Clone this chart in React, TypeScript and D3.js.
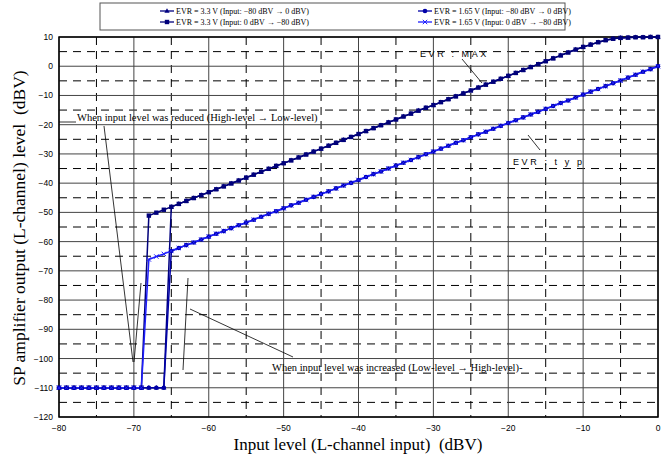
import React from "react";
import * as d3 from "d3";

const inputLevels = [
  -80, -79, -78, -77, -76, -75, -74, -73, -72, -71, -70, -69, -68, -67, -66, -65, -64, -63, -62, -61,
  -60, -59, -58, -57, -56, -55, -54, -53, -52, -51, -50, -49, -48, -47, -46, -45, -44, -43, -42, -41,
  -40, -39, -38, -37, -36, -35, -34, -33, -32, -31, -30, -29, -28, -27, -26, -25, -24, -23, -22, -21,
  -20, -19, -18, -17, -16, -15, -14, -13, -12, -11, -10, -9, -8, -7, -6, -5, -4, -3, -2, -1, 0,
];

// EVR = 3.3 V, input -80 -> 0 dBV
const evr33Up = [
  -110, -110, -110, -110, -110, -110, -110, -110, -110, -110, -110, -110, -110, -110, -110,
  -48.1, -47.1, -46.1, -45.1, -44.1, -43.1, -42.1, -41.1, -40.1, -39.1, -38.1, -37.1, -36.1, -35.1, -34.1,
  -33.2, -32.2, -31.2, -30.2, -29.2, -28.2, -27.2, -26.2, -25.2, -24.2, -23.2, -22.2, -21.2, -20.2, -19.2,
  -18.2, -17.2, -16.2, -15.2, -14.2, -13.3, -12.3, -11.3, -10.3, -9.3, -8.3, -7.3, -6.3, -5.3, -4.3,
  -3.3, -2.3, -1.3, -0.3, 0.7, 1.7, 2.7, 3.7, 4.7, 5.7, 6.6, 7.4, 8.2, 8.9, 9.4, 9.7, 9.8, 9.9, 9.9, 10, 10,
];

// EVR = 3.3 V, input 0 -> -80 dBV
const evr33Down = [
  -110, -110, -110, -110, -110, -110, -110, -110, -110, -110, -110, -110,
  -51.1, -50.1, -49.1, -48.1, -47.1, -46.1, -45.1, -44.1, -43.1, -42.1, -41.1, -40.1, -39.1, -38.1, -37.1,
  -36.1, -35.1, -34.1, -33.2, -32.2, -31.2, -30.2, -29.2, -28.2, -27.2, -26.2, -25.2, -24.2, -23.2, -22.2,
  -21.2, -20.2, -19.2, -18.2, -17.2, -16.2, -15.2, -14.2, -13.3, -12.3, -11.3, -10.3, -9.3, -8.3, -7.3,
  -6.3, -5.3, -4.3, -3.3, -2.3, -1.3, -0.3, 0.7, 1.7, 2.7, 3.7, 4.7, 5.7, 6.6, 7.4, 8.2, 8.9, 9.4, 9.7,
  9.8, 9.9, 9.9, 10, 10,
];

// EVR = 1.65 V, input -80 -> 0 dBV
const evr165Up = [
  -110, -110, -110, -110, -110, -110, -110, -110, -110, -110, -110, -110, -110, -110, -110,
  -63.2, -62.2, -61.2, -60.3, -59.3, -58.3, -57.3, -56.4, -55.4, -54.4, -53.5, -52.5, -51.5, -50.5, -49.6,
  -48.6, -47.6, -46.7, -45.7, -44.7, -43.7, -42.8, -41.8, -40.8, -39.9, -38.9, -37.9, -36.9, -36.0, -35.0,
  -34.0, -33.0, -32.1, -31.1, -30.1, -29.2, -28.2, -27.2, -26.2, -25.3, -24.3, -23.3, -22.4, -21.4, -20.4,
  -19.4, -18.5, -17.5, -16.5, -15.6, -14.6, -13.6, -12.6, -11.7, -10.7, -9.7, -8.7, -7.8, -6.8, -5.8, -4.9,
  -3.9, -2.9, -1.9, -1.0, 0,
];

// EVR = 1.65 V, input 0 -> -80 dBV
const evr165Down = [
  -110, -110, -110, -110, -110, -110, -110, -110, -110, -110, -110, -110,
  -66.1, -65.1, -64.2, -63.2, -62.2, -61.2, -60.3, -59.3, -58.3, -57.3, -56.4, -55.4, -54.4, -53.5, -52.5,
  -51.5, -50.5, -49.6, -48.6, -47.6, -46.7, -45.7, -44.7, -43.7, -42.8, -41.8, -40.8, -39.9, -38.9, -37.9,
  -36.9, -36.0, -35.0, -34.0, -33.0, -32.1, -31.1, -30.1, -29.2, -28.2, -27.2, -26.2, -25.3, -24.3, -23.3,
  -22.4, -21.4, -20.4, -19.4, -18.5, -17.5, -16.5, -15.6, -14.6, -13.6, -12.6, -11.7, -10.7, -9.7, -8.7,
  -7.8, -6.8, -5.8, -4.9, -3.9, -2.9, -1.9, -1.0, 0,
];

const seriesLabels = [
  "EVR = 3.3 V (Input: \u221280 dBV \u2192 0 dBV)",
  "EVR = 3.3 V (Input: 0 dBV \u2192 \u221280 dBV)",
  "EVR = 1.65 V (Input: \u221280 dBV \u2192 0 dBV)",
  "EVR = 1.65 V (Input: 0 dBV \u2192 \u221280 dBV)",
];

const xTicks = [-80, -70, -60, -50, -40, -30, -20, -10, 0];
const yTicks = [10, 0, -10, -20, -30, -40, -50, -60, -70, -80, -90, -100, -110, -120];
const xMinor = [-75, -65, -55, -45, -35, -25, -15, -5];
const yMinor = [5, -5, -15, -25, -35, -45, -55, -65, -75, -85, -95, -105, -115];

const W = 669;
const H = 457;
const L = 59, R = 658, T = 37, B = 417;

const fmt = (v: number) => (v < 0 ? "\u2212" + Math.abs(v) : String(v));

type Shape = "tri" | "sq" | "dot" | "x";
const series: { values: number[]; color: string; shape: Shape }[] = [
  { values: evr33Up, color: "#000080", shape: "tri" },
  { values: evr33Down, color: "#00007a", shape: "sq" },
  { values: evr165Up, color: "#0000a8", shape: "dot" },
  { values: evr165Down, color: "#1e1eff", shape: "x" },
];

function Marker({ x, y, shape, color }: { x: number; y: number; shape: Shape; color: string }) {
  if (shape === "tri")
    return <path d={`M${x},${y - 2.8}L${x + 2.6},${y + 1.8}L${x - 2.6},${y + 1.8}Z`} fill={color} />;
  if (shape === "sq") return <rect x={x - 2.2} y={y - 2.2} width={4.4} height={4.4} fill={color} />;
  if (shape === "dot") return <circle cx={x} cy={y} r={2.3} fill={color} />;
  return (
    <path
      d={`M${x - 2.2},${y - 2.2}L${x + 2.2},${y + 2.2}M${x - 2.2},${y + 2.2}L${x + 2.2},${y - 2.2}`}
      stroke={color}
      strokeWidth={1}
    />
  );
}

export default function App() {
  const x = d3.scaleLinear().domain([-80, 0]).range([L, R]);
  const y = d3.scaleLinear().domain([-120, 10]).range([B, T]);
  const line = d3
    .line<number>()
    .x((_, i) => x(inputLevels[i]))
    .y((d) => y(d));

  const sans = "'Liberation Sans', Arial, sans-serif";
  const serif = "'Liberation Serif', 'Times New Roman', serif";

  const legendItems = [
    { lx: 160, ly: 11, ...series[0], label: seriesLabels[0] },
    { lx: 160, ly: 22, ...series[1], label: seriesLabels[1] },
    { lx: 418, ly: 11, ...series[2], label: seriesLabels[2] },
    { lx: 418, ly: 22, ...series[3], label: seriesLabels[3] },
  ];

  return (
    <svg
      width={W}
      height={H}
      style={{ position: "absolute", left: 0, top: 0, background: "#fff" }}
    >
      {/* grid */}
      {xMinor.map((v) => (
        <line key={"xm" + v} x1={x(v)} x2={x(v)} y1={T} y2={B} stroke="#000" strokeWidth={1} strokeDasharray="8,6" />
      ))}
      {yMinor.map((v) => (
        <line key={"ym" + v} x1={L} x2={R} y1={y(v)} y2={y(v)} stroke="#000" strokeWidth={1} strokeDasharray="8,6" />
      ))}
      {xTicks.map((v) => (
        <line key={"xg" + v} x1={x(v)} x2={x(v)} y1={T} y2={B} stroke="#444" strokeWidth={1} />
      ))}
      {yTicks.map((v) => (
        <line key={"yg" + v} x1={L} x2={R} y1={y(v)} y2={y(v)} stroke="#444" strokeWidth={1} />
      ))}
      <rect x={L} y={T} width={R - L} height={B - T} fill="none" stroke="#000" strokeWidth={1.5} />

      {/* tick labels */}
      {xTicks.map((v) => (
        <text key={"xt" + v} x={x(v)} y={B + 14} fontSize={8.5} fontFamily={sans} textAnchor="middle">
          {fmt(v)}
        </text>
      ))}
      {yTicks.map((v) => (
        <text key={"yt" + v} x={L - 6} y={y(v) + 3} fontSize={8.5} fontFamily={sans} textAnchor="end">
          {fmt(v)}
        </text>
      ))}

      {/* axis titles */}
      <text x={358} y={450} fontSize={17} fontFamily={serif} textAnchor="middle">
        {"Input level (L-channel input)\u00a0\u00a0(dBV)"}
      </text>
      <text
        transform={`translate(25,228) rotate(-90)`}
        fontSize={17.5}
        fontFamily={serif}
        textAnchor="middle"
      >
        {"SP amplifier output (L-channel) level\u00a0\u00a0(dBV)"}
      </text>

      {/* series lines */}
      {series.map((s, i) => (
        <path key={"l" + i} d={line(s.values) || ""} fill="none" stroke={s.color} strokeWidth={1.5} />
      ))}
      {series.map((s, i) =>
        s.values.map((v, j) => (
          <Marker key={"m" + i + "-" + j} x={x(inputLevels[j])} y={y(v)} shape={s.shape} color={s.color} />
        ))
      )}

      {/* annotations */}
      <text x={77} y={121} fontSize={10.5} fontFamily={serif}>
        When input level was reduced (High-level {"\u2192"} Low-level)
      </text>
      <line x1={59} x2={76} y1={122} y2={122} stroke="#000" strokeWidth={0.8} />
      <line x1={104} y1={126} x2={133} y2={362} stroke="#000" strokeWidth={0.8} />
      <line x1={141} y1={283} x2={134} y2={362} stroke="#000" strokeWidth={0.8} />

      <text x={272} y={371} fontSize={10.5} fontFamily={serif}>
        When input level was increased (Low-level {"\u2192"} High-level)-
      </text>
      <line x1={190} y1={309} x2={293} y2={357} stroke="#000" strokeWidth={0.8} />
      <line x1={188} y1={278} x2={183} y2={370} stroke="#000" strokeWidth={0.8} />

      <text x={420} y={57} fontSize={9} fontFamily={sans} letterSpacing={2.6}>
        EVR : MAX
      </text>
      <line x1={462} y1={59} x2={482} y2={83} stroke="#000" strokeWidth={0.8} />
      <text x={513} y={165} fontSize={9} fontFamily={sans} letterSpacing={2.6}>
        EVR : t y p
      </text>
      <line x1={528} y1={135} x2={540} y2={150} stroke="#000" strokeWidth={0.8} />

      {/* legend */}
      <rect x={100} y={3} width={465} height={27} fill="#fff" stroke="#555" strokeWidth={1} />
      {legendItems.map((it, i) => (
        <g key={"lg" + i}>
          <line x1={it.lx} x2={it.lx + 14} y1={it.ly} y2={it.ly} stroke={it.color} strokeWidth={1.3} />
          <Marker x={it.lx + 7} y={it.ly} shape={it.shape} color={it.color} />
          <text x={it.lx + 16} y={it.ly + 3} fontSize={8} fontFamily={serif}>
            {it.label}
          </text>
        </g>
      ))}
    </svg>
  );
}
